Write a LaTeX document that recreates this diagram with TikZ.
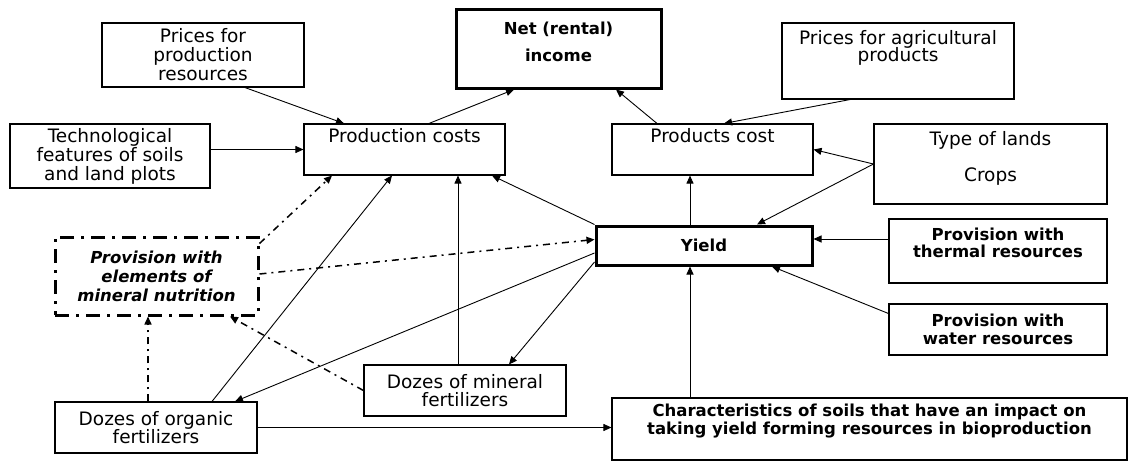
\documentclass[tikz,border=0pt]{standalone}
\usepackage{fontspec}
\setmainfont{DejaVu Sans}
\usepackage{tikz}
\usetikzlibrary{arrows.meta}

\newcommand{\regfont}{\fontsize{18.5}{19}\selectfont}
\newcommand{\keyfont}{\fontsize{16.5}{19}\selectfont\bfseries}

\begin{document}
\begin{tikzpicture}[x=1pt, y=-1pt,
    box/.style={draw, line width=1.1pt, inner sep=0pt, align=center, font=\regfont},
    keybox/.style={box, line width=3pt, font=\keyfont},
    resbox/.style={box, font=\keyfont},
    nutbox/.style={box, line width=3pt, dash pattern=on 14pt off 7pt on 3pt off 7pt, font=\keyfont\itshape},
    arr/.style={-{Triangle[length=8pt,width=7pt]}, line width=0.9pt},
    dotarr/.style={arr, line width=1.5pt, dash pattern=on 7pt off 5pt on 2pt off 5pt}]
    \useasboundingbox (0,0) rectangle (1128,461);

    % Top row
    \node[box, minimum width=202pt, minimum height=64pt] (prodres) at (203,55) {Prices for\\production\\resources};
    \node[keybox, minimum width=205pt, minimum height=79pt] (netinc) at (558.5,48.5) {Net (rental)\\[8pt]income\\[-6pt]\mbox{}};
    \node[box, minimum width=232pt, minimum height=76pt] (agriprice) at (898,61) {Prices for agricultural\\[-2pt]products\\[11pt]\mbox{}};

    % Cost row
    \node[box, minimum width=200pt, minimum height=64pt] (techfeat) at (110,156) {Technological\\features of soils\\and land plots};
    \node[box, minimum width=201pt, minimum height=51pt] (prodcost) at (404.5,149.5) {Production costs\\[9pt]\mbox{}};
    \node[box, minimum width=201pt, minimum height=51pt] (prodsale) at (712.5,149.5) {Products cost\\[9pt]\mbox{}};
    \node[box, minimum width=233pt, minimum height=80pt] (landtype) at (990.5,164) {Type of lands\\[17pt]Crops\\[-4pt]\mbox{}};

    % Yield and its resources
    \node[nutbox, minimum width=203pt, minimum height=78pt] (nutrient) at (156.5,276) {Provision with\\elements of\\mineral nutrition};
    \node[keybox, minimum width=216pt, minimum height=39pt] (yield) at (704,245.5) {Yield};
    \node[resbox, minimum width=218pt, minimum height=64pt] (thermal) at (998,251) {Provision with\\[-2pt]thermal resources\\[-3pt]\mbox{}};
    \node[resbox, minimum width=218pt, minimum height=51pt] (water) at (998,329.5) {Provision with\\[-1pt]water resources};

    % Fertilizers and soils
    \node[box, minimum width=202pt, minimum height=51pt] (mineral) at (465,390.5) {Dozes of mineral\\[-1pt]fertilizers};
    \node[box, minimum width=202pt, minimum height=51pt] (organic) at (156,427.5) {Dozes of organic\\[-1pt]fertilizers};
    \node[resbox, minimum width=515pt, minimum height=62pt] (soilchar) at (869.5,429) {Characteristics of soils that have an impact on\\[-1pt]taking yield forming resources in bioproduction\\\mbox{}};

    % Stems for straight vertical and horizontal links
    \coordinate (minstem) at ([xshift=-7pt]mineral.north);
    \coordinate (orgstem) at ([xshift=-8pt]organic.north);
    \coordinate (ystem) at ([xshift=-14pt]yield.north);
    \coordinate (soilstem) at ([xshift=-14pt]yield.south);
    \coordinate (thermin) at ([yshift=12pt]thermal.west);

    % Into production costs
    \draw[arr] ([xshift=42pt]prodres.south) -- ([xshift=-60.5pt]prodcost.north);
    \draw[arr] (techfeat.east |- prodcost.west) -- (prodcost.west);
    \draw[arr] (yield.north west) -- ([xshift=87.5pt]prodcost.south);
    \draw[arr] (minstem) -- (minstem |- prodcost.south);
    \draw[arr] ([xshift=56pt]organic.north) -- ([xshift=-12.5pt]prodcost.south);
    \draw[dotarr] ([yshift=-8pt]nutrient.north east) -- ([xshift=-72.5pt]prodcost.south);

    % Into net income
    \draw[arr] ([xshift=24.5pt]prodcost.north) -- ([xshift=-44.5pt]netinc.south);
    \draw[arr] ([xshift=-55.5pt]prodsale.north) -- ([xshift=57.5pt]netinc.south);

    % Into products cost
    \draw[arr] ([xshift=-48pt]agriprice.south) -- ([xshift=11.5pt]prodsale.north);
    \draw[arr] (landtype.west) -- (prodsale.east);
    \draw[arr] (ystem) -- (ystem |- prodsale.south);

    % Into yield
    \draw[arr] (landtype.west) -- ([xshift=53pt]yield.north);
    \draw[arr] (thermin) -- (thermin -| yield.east);
    \draw[arr] ([yshift=16pt]water.west) -- ([xshift=68pt]yield.south);
    \draw[arr] (soilstem |- soilchar.north) -- (soilstem);
    \draw[dotarr] ([yshift=2pt]nutrient.east) -- ([yshift=6pt]yield.west);

    % From yield to fertilizers
    \draw[arr] ([yshift=-7.5pt]yield.west) -- ([xshift=79pt]organic.north);
    \draw[arr] ([yshift=-16.5pt]yield.west) -- ([xshift=44pt]mineral.north);

    % Into nutrition and soils
    \draw[dotarr] (mineral.west) -- ([xshift=73.5pt]nutrient.south);
    \draw[dotarr] (orgstem) -- (orgstem |- nutrient.south);
    \draw[arr] (organic.east) -- (organic.east -| soilchar.west);
\end{tikzpicture}
\end{document}
